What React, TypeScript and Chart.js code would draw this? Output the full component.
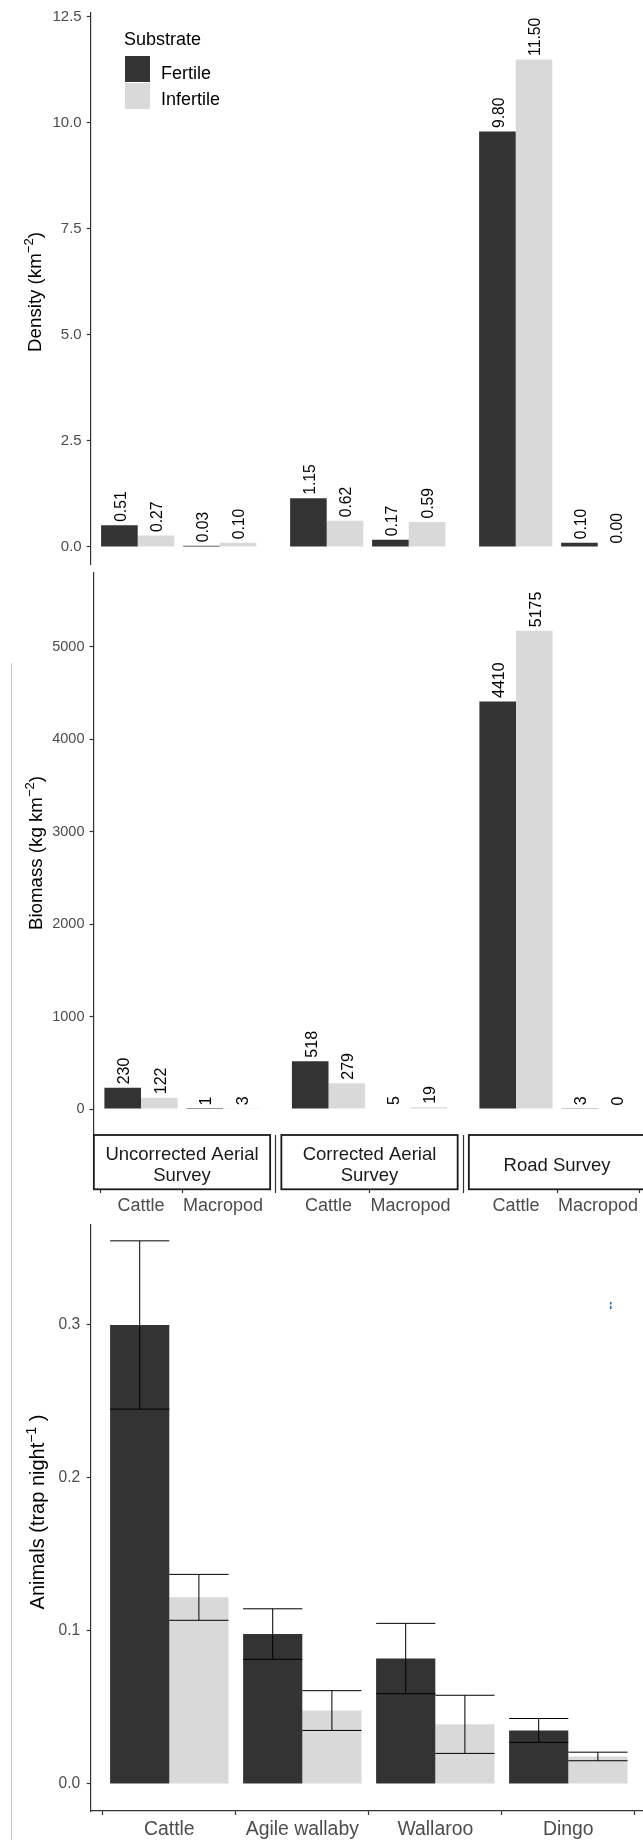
import React, { useEffect, useRef } from "react";
import { Chart, registerables } from "chart.js";
Chart.register(...registerables);

const FONT = '"Liberation Sans", Arial, Helvetica, sans-serif';
Chart.defaults.font.family = FONT;

const FERTILE = "#333333";
const INFERTILE = "#d9d9d9";
const AXIS = "#333333";
const TICK = "#4d4d4d";

// ---------------- data ----------------
const substrates = ["Fertile", "Infertile"];
const surveyNames = [["Uncorrected Aerial", "Survey"], ["Corrected Aerial", "Survey"], ["Road Survey"]];
const surveySpecies = ["Cattle", "Macropod"];

const densityFertile = [0.51, 0.03, 1.15, 0.17, 9.8, 0.1];
const densityInfertile = [0.27, 0.1, 0.62, 0.59, 11.5, 0.0];
const densityTicks = [0, 2.5, 5, 7.5, 10, 12.5];

const biomassFertile = [230, 1, 518, 5, 4410, 3];
const biomassInfertile = [122, 3, 279, 19, 5175, 0];
const biomassTicks = [0, 1000, 2000, 3000, 4000, 5000];

const trapSpecies = ["Cattle", "Agile wallaby", "Wallaroo", "Dingo"];
const trapFertile = [0.3, 0.098, 0.082, 0.035];
const trapInfertile = [0.122, 0.048, 0.039, 0.018];
const trapSeFertile = [0.055, 0.0165, 0.023, 0.0078];
const trapSeInfertile = [0.015, 0.013, 0.019, 0.0028];
const trapTicks = [0, 0.1, 0.2, 0.3];

// ---------------- layout ----------------
const CW = 700;
const TOP1 = -20, H1 = 610;
const TOP2 = 550, H2 = 690;
const TOP3 = 1200, H3 = 640;

function facetPositions(n: number, stride: number) {
  return Array.from({ length: n }, (_, i) => Math.floor(i / 2) * stride + (i % 2));
}

function drawYTitle(ctx: CanvasRenderingContext2D, cx: number, cy: number, main: string, sup: string, tail: string, size: number) {
  ctx.save();
  ctx.translate(cx, cy);
  ctx.rotate(-Math.PI / 2);
  ctx.fillStyle = "#000";
  ctx.textAlign = "left";
  ctx.textBaseline = "alphabetic";
  const f = `${size}px ${FONT}`;
  const fs = `${(size * 0.7).toFixed(2)}px ${FONT}`;
  ctx.font = f;
  const w1 = ctx.measureText(main).width;
  const w3 = ctx.measureText(tail).width;
  ctx.font = fs;
  const w2 = ctx.measureText(sup).width;
  let x = -(w1 + w2 + w3) / 2;
  const base = size * 0.36;
  ctx.font = f;
  ctx.fillText(main, x, base);
  x += w1;
  ctx.font = fs;
  ctx.fillText(sup, x, base - size * 0.42);
  x += w2;
  ctx.font = f;
  ctx.fillText(tail, x, base);
  ctx.restore();
}

function valueLabelPlugin(size: number, fmt: (v: number) => string) {
  return {
    id: "valueLabels",
    afterDatasetsDraw(chart: any) {
      const ctx = chart.ctx;
      ctx.save();
      ctx.font = `${size}px ${FONT}`;
      ctx.fillStyle = "#000";
      ctx.textAlign = "left";
      ctx.textBaseline = "middle";
      chart.data.datasets.forEach((ds: any, di: number) => {
        const meta = chart.getDatasetMeta(di);
        meta.data.forEach((bar: any, i: number) => {
          const v = ds.data[i].y;
          ctx.save();
          ctx.translate(bar.x + 2, bar.y - 3.5);
          ctx.rotate(-Math.PI / 2);
          ctx.fillText(fmt(v), 0, 0);
          ctx.restore();
        });
      });
      ctx.restore();
    },
  };
}

function yAxis(min: number, max: number, ticks: number[], width: number, size: number, fmt: (v: number) => string, pad: number) {
  return {
    min,
    max,
    afterBuildTicks: (s: any) => {
      s.ticks = ticks.map((v) => ({ value: v }));
    },
    afterFit: (s: any) => {
      s.width = width;
    },
    border: { display: true, color: AXIS, width: 1.2 },
    grid: { display: true, drawOnChartArea: false, drawTicks: true, tickLength: 4, tickColor: AXIS, tickWidth: 1.2, color: AXIS },
    ticks: { color: TICK, font: { size, family: FONT }, padding: pad, callback: (v: any) => fmt(Number(v)) },
  };
}

const baseOptions = {
  responsive: false,
  animation: false as const,
  devicePixelRatio: 1,
  events: [] as any[],
};

export default function App() {
  const r1 = useRef<HTMLCanvasElement>(null);
  const r2 = useRef<HTMLCanvasElement>(null);
  const r3 = useRef<HTMLCanvasElement>(null);

  useEffect(() => {
    // ---------- top: density ----------
    const u1 = 82, left1 = 90.7, right1 = CW - 40, px01 = 137.7, stride1 = 2.305;
    const xMin1 = (left1 - px01) / u1;
    const xMax1 = xMin1 + (right1 - left1) / u1;
    const pos1 = facetPositions(densityFertile.length, stride1);

    const topPlugin = {
      id: "topDecor",
      afterDraw(chart: any) {
        const ctx = chart.ctx;
        ctx.save();
        ctx.translate(0, -TOP1);
        drawYTitle(ctx, 34, 292, "Density (km", "\u22122", ")", 18.7);
        // legend
        ctx.fillStyle = "#000";
        ctx.textAlign = "left";
        ctx.textBaseline = "alphabetic";
        ctx.font = `18px ${FONT}`;
        ctx.fillText("Substrate", 124, 45);
        ctx.fillStyle = FERTILE;
        ctx.fillRect(125, 56, 25, 26);
        ctx.fillStyle = INFERTILE;
        ctx.fillRect(125, 83, 25, 26);
        ctx.fillStyle = "#000";
        ctx.font = `18px ${FONT}`;
        ctx.fillText(substrates[0], 161, 78.5);
        ctx.fillText(substrates[1], 161, 105);
        ctx.restore();
      },
    };

    const c1 = new Chart(r1.current as HTMLCanvasElement, {
      type: "bar",
      data: {
        datasets: [
          { label: substrates[0], data: densityFertile.map((y, i) => ({ x: pos1[i], y })), backgroundColor: FERTILE, borderWidth: 0, inflateAmount: 0, barThickness: 36.6 },
          { label: substrates[1], data: densityInfertile.map((y, i) => ({ x: pos1[i], y })), backgroundColor: INFERTILE, borderWidth: 0, inflateAmount: 0, barThickness: 36.6 },
        ],
      } as any,
      options: {
        ...baseOptions,
        layout: { padding: { left: 0, right: CW - right1, top: 13 - TOP1, bottom: H1 - (564 - TOP1) } },
        plugins: { legend: { display: false }, tooltip: { enabled: false } },
        scales: {
          x: {
            type: "linear",
            display: false,
            offset: false,
            min: xMin1,
            max: xMax1,
            afterBuildTicks: (s: any) => {
              s.ticks = pos1.map((v) => ({ value: v }));
            },
          },
          y: yAxis(-0.401, 12.594, densityTicks, left1, 15, (v) => v.toFixed(1), 5),
        },
      } as any,
      plugins: [valueLabelPlugin(15.7, (v) => v.toFixed(2)), topPlugin],
    });

    // ---------- middle: biomass ----------
    const u2 = 82, left2 = 93.5, right2 = CW - 40, px02 = 141, stride2 = 2.2866;
    const xMin2 = (left2 - px02) / u2;
    const xMax2 = xMin2 + (right2 - left2) / u2;
    const pos2 = facetPositions(biomassFertile.length, stride2);
    const chartBottom2 = 1135 - TOP2;

    const midPlugin = {
      id: "midDecor",
      afterDraw(chart: any) {
        const ctx = chart.ctx;
        const xs = chart.scales.x;
        ctx.save();
        // strips
        const sTop = chart.chartArea.bottom;
        const sH = 54.3;
        surveyNames.forEach((lines, f) => {
          const a = xs.getPixelForValue(pos2[f * 2] - 0.575);
          const b = xs.getPixelForValue(pos2[f * 2 + 1] + 0.575);
          ctx.fillStyle = "#fff";
          ctx.fillRect(a, sTop, b - a, sH);
          ctx.strokeStyle = "#1a1a1a";
          ctx.lineWidth = 1.8;
          ctx.strokeRect(a, sTop, b - a, sH);
          ctx.fillStyle = "#1a1a1a";
          ctx.font = `18.5px ${FONT}`;
          ctx.textAlign = "center";
          ctx.textBaseline = "alphabetic";
          const cx = (a + b) / 2;
          if (lines.length === 2) {
            ctx.fillText(lines[0], cx, sTop + 25);
            ctx.fillText(lines[1], cx, sTop + 45.7);
          } else {
            ctx.fillText(lines[0], cx, sTop + 35.7);
          }
        });
        ctx.translate(0, -TOP2);
        drawYTitle(ctx, 35, 853, "Biomass (kg km", "\u22122", ")", 18.7);
        ctx.restore();
      },
    };

    const c2 = new Chart(r2.current as HTMLCanvasElement, {
      type: "bar",
      data: {
        datasets: [
          { label: substrates[0], data: biomassFertile.map((y, i) => ({ x: pos2[i], y })), backgroundColor: FERTILE, borderWidth: 0, inflateAmount: 0, barThickness: 36.6 },
          { label: substrates[1], data: biomassInfertile.map((y, i) => ({ x: pos2[i], y })), backgroundColor: INFERTILE, borderWidth: 0, inflateAmount: 0, barThickness: 36.6 },
        ],
      } as any,
      options: {
        ...baseOptions,
        layout: { padding: { left: 0, right: CW - right2, top: 573 - TOP2, bottom: 0 } },
        plugins: { legend: { display: false }, tooltip: { enabled: false } },
        scales: {
          x: {
            type: "linear",
            offset: false,
            min: xMin2,
            max: xMax2,
            afterBuildTicks: (s: any) => {
              s.ticks = pos2.map((v) => ({ value: v }));
            },
            afterFit: (s: any) => {
              s.height = H2 - chartBottom2;
            },
            border: { display: false },
            grid: { display: true, drawOnChartArea: false, drawTicks: true, tickLength: 58, tickColor: AXIS, tickWidth: 1.2, color: AXIS },
            ticks: {
              autoSkip: false,
              maxRotation: 0,
              minRotation: 0,
              padding: 2.2,
              color: TICK,
              font: { size: 18, family: FONT },
              callback: (_v: any, i: number) => surveySpecies[i % 2],
            },
          },
          y: yAxis(-281, 5800, biomassTicks, left2, 14.5, (v) => String(Math.round(v)), 5),
        },
      } as any,
      plugins: [valueLabelPlugin(16, (v) => String(Math.round(v))), midPlugin],
    });

    // ---------- bottom: trap ----------
    const u3 = 133, left3 = 90.7, right3 = 648, px03 = 169.3;
    const xMin3 = (left3 - px03) / u3;
    const xMax3 = xMin3 + (right3 - left3) / u3;
    const pos3 = trapSpecies.map((_, i) => i);
    const chartBottom3 = 1811 - TOP3;

    const botPlugin = {
      id: "botDecor",
      afterDatasetsDraw(chart: any) {
        const ctx = chart.ctx;
        const ys = chart.scales.y;
        ctx.save();
        ctx.strokeStyle = "#000";
        ctx.lineWidth = 1;
        [
          [trapFertile, trapSeFertile],
          [trapInfertile, trapSeInfertile],
        ].forEach(([vals, se], di) => {
          const meta = chart.getDatasetMeta(di);
          meta.data.forEach((bar: any, i: number) => {
            const hi = ys.getPixelForValue(vals[i] + se[i]);
            const lo = ys.getPixelForValue(vals[i] - se[i]);
            const half = bar.width / 2;
            ctx.beginPath();
            ctx.moveTo(bar.x - half, hi);
            ctx.lineTo(bar.x + half, hi);
            ctx.moveTo(bar.x, hi);
            ctx.lineTo(bar.x, lo);
            ctx.moveTo(bar.x - half, lo);
            ctx.lineTo(bar.x + half, lo);
            ctx.stroke();
          });
        });
        ctx.restore();
      },
      afterDraw(chart: any) {
        const ctx = chart.ctx;
        ctx.save();
        ctx.translate(0, -TOP3);
        drawYTitle(ctx, 37, 1512, "Animals (trap night", "\u22121", " )", 20);
        ctx.fillStyle = "#1f5fa8";
        ctx.fillRect(610, 1302, 1.5, 2.5);
        ctx.fillRect(610, 1306, 1.5, 3);
        ctx.restore();
      },
    };

    const c3 = new Chart(r3.current as HTMLCanvasElement, {
      type: "bar",
      data: {
        datasets: [
          { label: substrates[0], data: trapFertile.map((y, i) => ({ x: pos3[i], y })), backgroundColor: FERTILE, borderWidth: 0, inflateAmount: 0, barThickness: 59.2 },
          { label: substrates[1], data: trapInfertile.map((y, i) => ({ x: pos3[i], y })), backgroundColor: INFERTILE, borderWidth: 0, inflateAmount: 0, barThickness: 59.2 },
        ],
      } as any,
      options: {
        ...baseOptions,
        layout: { padding: { left: 0, right: CW - right3, top: 1225 - TOP3, bottom: 0 } },
        plugins: { legend: { display: false }, tooltip: { enabled: false } },
        scales: {
          x: {
            type: "linear",
            offset: false,
            min: xMin3,
            max: xMax3,
            afterBuildTicks: (s: any) => {
              s.ticks = pos3.map((v) => ({ value: v }));
            },
            afterFit: (s: any) => {
              s.height = H3 - chartBottom3;
            },
            border: { display: true, color: AXIS, width: 1.2 },
            grid: { display: true, drawOnChartArea: false, drawTicks: true, tickLength: 4, tickColor: AXIS, tickWidth: 1.2, color: AXIS },
            ticks: {
              autoSkip: false,
              maxRotation: 0,
              minRotation: 0,
              padding: 2.6,
              color: TICK,
              font: { size: 19.4, family: FONT },
              callback: (_v: any, i: number) => trapSpecies[i],
            },
          },
          y: yAxis(-0.01765, 0.36536, trapTicks, left3, 15.6, (v) => v.toFixed(1), 6.5),
        },
      } as any,
      plugins: [botPlugin],
    });

    return () => {
      c1.destroy();
      c2.destroy();
      c3.destroy();
    };
  }, []);

  return (
    <div style={{ position: "absolute", left: 0, top: 0, width: 643, height: 1840, overflow: "hidden", background: "#fff" }}>
      <div style={{ position: "absolute", left: 11, top: 663, width: 1, height: 1177, background: "#cccccc" }} />
      <canvas ref={r1} width={CW} height={H1} style={{ position: "absolute", left: 0, top: TOP1, width: CW, height: H1 }} />
      <canvas ref={r2} width={CW} height={H2} style={{ position: "absolute", left: 0, top: TOP2, width: CW, height: H2 }} />
      <canvas ref={r3} width={CW} height={H3} style={{ position: "absolute", left: 0, top: TOP3, width: CW, height: H3 }} />
    </div>
  );
}
